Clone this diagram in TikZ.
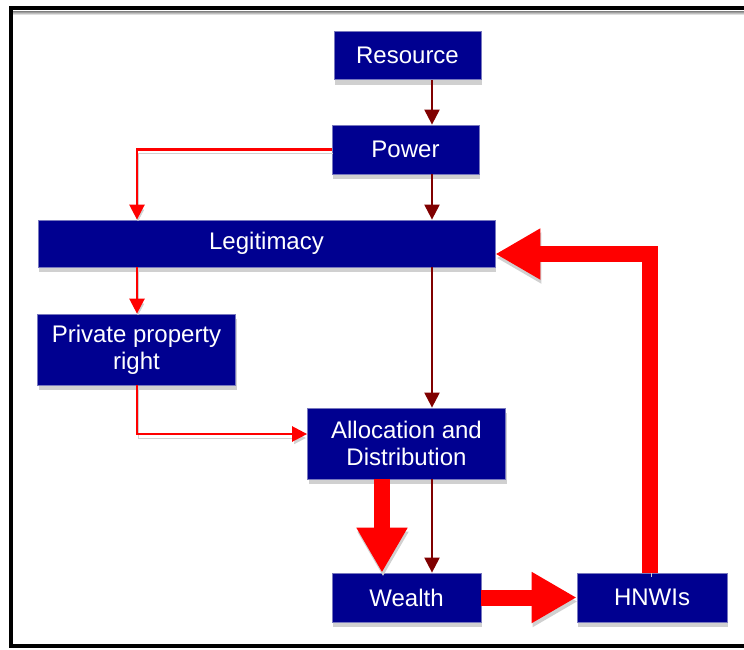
\documentclass[tikz,border=0pt]{standalone}
\usepackage{fontspec}
\setmainfont{Liberation Sans}
\usetikzlibrary{arrows.meta,shadows}
\definecolor{boxblue}{RGB}{0,0,144}
\definecolor{boxedge}{RGB}{120,120,190}
\definecolor{darkarrow}{RGB}{128,0,0}
\definecolor{shade}{RGB}{208,208,208}
\tikzset{
  box/.style={rectangle, fill=boxblue, draw=boxedge, line width=0.8pt,
    text=white, font=\fontsize{24}{27}\selectfont, align=center, inner sep=0pt,
    drop shadow={shadow xshift=1pt, shadow yshift=-5pt, fill=shade, opacity=1}},
  withshade/.style={preaction={draw=shade, transform canvas={xshift=1pt, yshift=-4pt}}},
  thindark/.style={draw=darkarrow, line width=2.2pt, -{Triangle[width=15pt,length=15pt]}},
  thinred/.style={withshade, draw=red, line width=2.5pt, -{Triangle[width=15pt,length=15pt]}},
  thickred/.style={withshade, draw=red, line width=16pt, -{Triangle[width=48pt,length=45pt]}},
}
\begin{document}
\begin{tikzpicture}[x=1pt, y=-1pt]
  \useasboundingbox (0,0) rectangle (744,649);
  \fill[white] (0,0) rectangle (744,649);
  % outer frame with its shade under the top edge
  \fill[shade] (13,11) rectangle (744,15);
  \draw[line width=4pt] (760,8) -- (11,8) -- (11,646) -- (760,646);

  % boxes
  \node[box, minimum width=147pt, minimum height=48pt] (res) at (407.5,55.5) {Resource};
  \node[box, minimum width=147pt, minimum height=49pt] (pow) at (405.5,149.5) {Power};
  \node[box, minimum width=457pt, minimum height=47pt] (leg) at (266.5,243.5) {Legitimacy};
  \node[box, minimum width=198pt, minimum height=71pt] (ppr) at (136.5,349.5) {Private property\\right};
  \node[box, minimum width=198pt, minimum height=71pt] (all) at (406.5,443.5) {Allocation and\\Distribution};
  \node[box, minimum width=149pt, minimum height=49pt] (wea) at (406.5,597.5) {Wealth};
  \node[box, minimum width=150pt, minimum height=49pt] (hnw) at (652,597.5) {HNWIs};

  % guide coordinates for the connector columns and rows
  \coordinate (colA) at (432,0);
  \coordinate (colL) at (137,0);
  \coordinate (colT) at (382,0);
  \coordinate (colH) at (650,0);
  \coordinate (rowP) at (0,434);
  \coordinate (rowF) at (0,254);

  % thin dark-red main chain
  \draw[thindark] (res.south -| colA) -- (pow.north -| colA);
  \draw[thindark] (pow.south -| colA) -- (leg.north -| colA);
  \draw[thindark] (leg.south -| colA) -- (all.north -| colA);
  \draw[thindark] (all.south -| colA) -- (wea.north -| colA);

  % thin red branch
  \draw[thinred] (pow.west) -| (leg.north -| colL);
  \draw[thinred] (leg.south -| colL) -- (ppr.north -| colL);
  \draw[thinred] (ppr.south -| colL) |- (all.west |- rowP);

  % thick red flows
  \draw[thickred] (all.south -| colT) -- (wea.north -| colT);
  \draw[thickred] (wea.east) -- (hnw.west);
  \draw[thickred, line join=miter] (hnw.north -| colH) -- (colH |- rowF) -- (leg.east |- rowF);
\end{tikzpicture}
\end{document}
